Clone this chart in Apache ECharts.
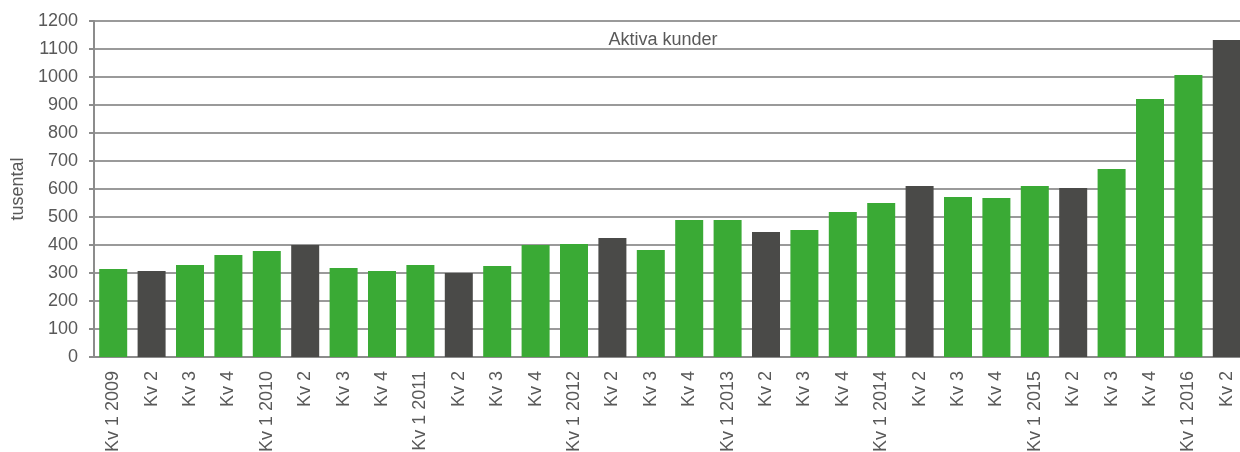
<!DOCTYPE html>
<html>
<head>
<meta charset="utf-8">
<title>Aktiva kunder</title>
<script src="https://cdn.jsdelivr.net/npm/echarts@6/dist/echarts.min.js"></script>
<style>
    html, body { margin: 0; padding: 0; background: #fff; }
    #chart { width: 1240px; height: 452px; }
</style>
</head>
<body>
<div id="chart"></div>
<script>
    // kvartal, tusental aktiva kunder
    var categories = [
        'Kv 1 2009', 'Kv 2', 'Kv 3', 'Kv 4',
        'Kv 1 2010', 'Kv 2', 'Kv 3', 'Kv 4',
        'Kv 1 2011', 'Kv 2', 'Kv 3', 'Kv 4',
        'Kv 1 2012', 'Kv 2', 'Kv 3', 'Kv 4',
        'Kv 1 2013', 'Kv 2', 'Kv 3', 'Kv 4',
        'Kv 1 2014', 'Kv 2', 'Kv 3', 'Kv 4',
        'Kv 1 2015', 'Kv 2', 'Kv 3', 'Kv 4',
        'Kv 1 2016', 'Kv 2'
    ];
    var values = [
        314, 307, 329, 364,
        379, 400, 318, 307,
        329, 300, 325, 400,
        404, 425, 382, 489,
        489, 446, 454, 518,
        550, 611, 571, 568,
        611, 604, 671, 921,
        1007, 1132
    ];
    var yTicks = { min: 0, max: 1200, interval: 100 };

    var green = '#3aaa35';
    var dark = '#4a4a48';
    var textColor = '#595959';
    var font = 'Liberation Sans, Arial, sans-serif';

    var chart = echarts.init(document.getElementById('chart'));
    var option = {
        animation: false,
        title: {
            text: 'Aktiva kunder',
            left: 658,
            top: 26,
            textAlign: 'center',
            textStyle: { fontFamily: font, fontSize: 18, fontWeight: 'normal', color: textColor }
        },
        // plot runs a few px past the right edge, as in the original
        grid: { left: 94, width: 1152, top: 21, bottom: 95, outerBoundsMode: 'none' },
        xAxis: {
            type: 'category',
            data: categories,
            axisLine: { lineStyle: { color: '#8c8c8c', width: 2 } },
            axisTick: { length: 5, lineStyle: { color: '#8c8c8c', width: 2 } },
            axisLabel: {
                rotate: 90,
                interval: 0,
                margin: 14,
                fontFamily: font,
                fontSize: 18,
                color: textColor
            }
        },
        yAxis: {
            type: 'value',
            min: yTicks.min,
            max: yTicks.max,
            interval: yTicks.interval,
            name: 'tusental',
            nameLocation: 'middle',
            nameGap: 66,
            nameTextStyle: { fontFamily: font, fontSize: 18, color: textColor },
            axisLine: { show: true, lineStyle: { color: '#8c8c8c', width: 2 } },
            axisTick: { show: true, length: 5, lineStyle: { color: '#8c8c8c', width: 2 } },
            axisLabel: {
                margin: 16,
                fontFamily: font,
                fontSize: 18,
                color: textColor,
                formatter: function (v) { return String(v); }
            },
            splitLine: { lineStyle: { color: '#9a9a9a', width: 2 } }
        },
        series: [{
            type: 'bar',
            data: values,
            barWidth: 28,
            itemStyle: {
                color: function (p) {
                    return categories[p.dataIndex] === 'Kv 2' ? dark : green;
                }
            }
        }]
    };
    chart.setOption(option);
</script>
</body>
</html>
